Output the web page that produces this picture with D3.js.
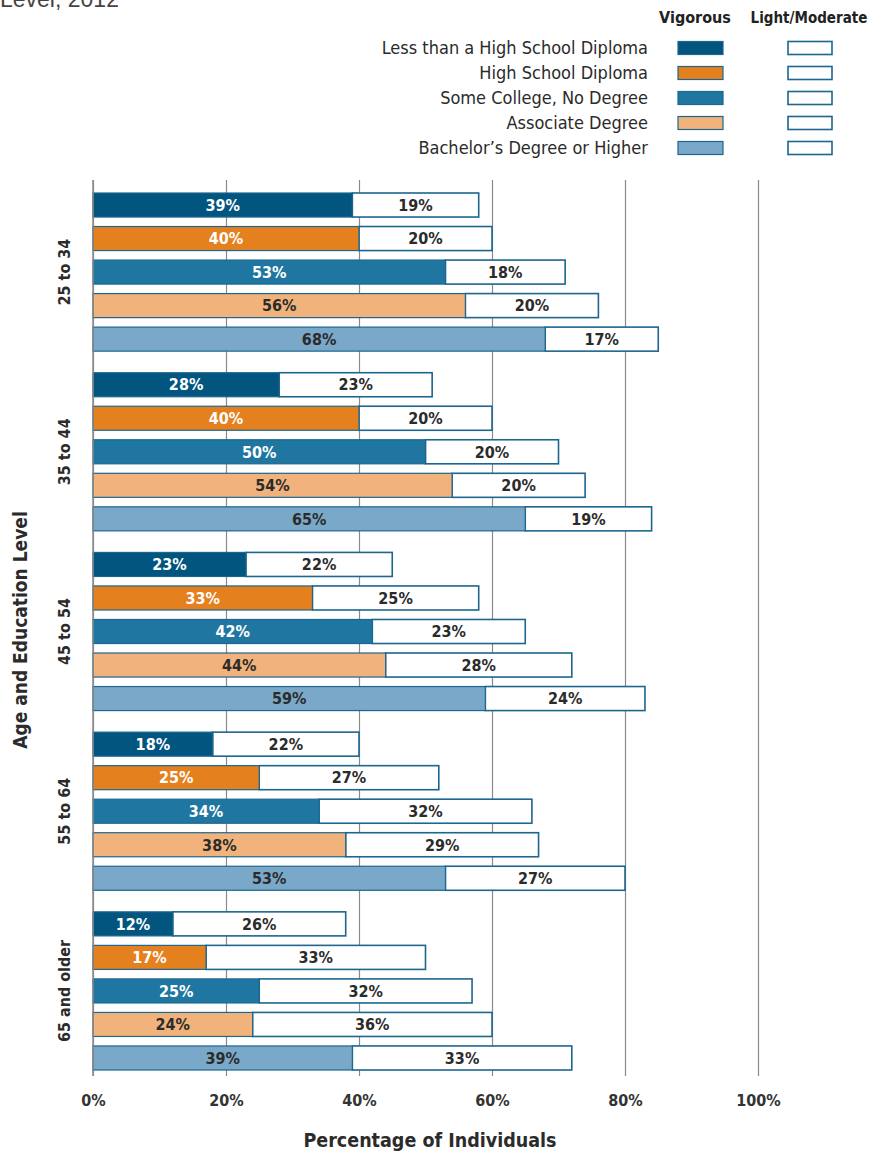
<!DOCTYPE html>
<html>
<head>
<meta charset="utf-8">
<script src="https://cdn.jsdelivr.net/npm/d3@7"></script>
<style>
html,body{margin:0;padding:0;background:#fff;}
svg{display:block;}
text{font-family:"Liberation Sans Narrow","DejaVu Sans Condensed","Arial Narrow",sans-serif;}
</style>
</head>
<body>
<svg id="chart" width="882" height="1153"></svg>
<script>
// ---- data ----
const ageGroups = ["25 to 34", "35 to 44", "45 to 54", "55 to 64", "65 and older"];
const educationLevels = ["Less than a High School Diploma", "High School Diploma", "Some College, No Degree", "Associate Degree", "Bachelor\u2019s Degree or Higher"];
// vigorous[age][education]
const vigorous = [
  [39, 40, 53, 56, 68],
  [28, 40, 50, 54, 65],
  [23, 33, 42, 44, 59],
  [18, 25, 34, 38, 53],
  [12, 17, 25, 24, 39]
];
const lightModerate = [
  [19, 20, 18, 20, 17],
  [23, 20, 20, 20, 19],
  [22, 25, 23, 28, 24],
  [22, 27, 32, 29, 27],
  [26, 33, 32, 36, 33]
];
const xTicks = [0, 20, 40, 60, 80, 100];
const colors = ["#02557f", "#e5801f", "#1f77a1", "#f1b37b", "#79a8c8"];
const labelColors = ["#fff", "#fff", "#fff", "#2b2b2b", "#2b2b2b"];
const strokeColor = "#1c6690";

const svg = d3.select("#chart");

// title fragment (cut off at top, as in the source)
svg.append("text").attr("x", 0).attr("y", 7).attr("font-size", 23)
  .attr("fill", "#444").style("font-family", "'Liberation Sans','DejaVu Sans',sans-serif")
  .text("Level, 2012");

const x = d3.scaleLinear().domain([0, 100]).range([93, 758]);
const yGroup = d3.scaleBand().domain(ageGroups).range([193, 1070]).paddingInner(0.12).paddingOuter(0);
const yBar = d3.scaleBand().domain(educationLevels).range([0, yGroup.bandwidth()]).paddingInner(0.283).paddingOuter(0);

// gridlines
const grid = svg.append("g").attr("transform", "translate(0,1076)")
  .call(d3.axisBottom(x).tickValues(xTicks).tickSize(-896).tickFormat(""));
grid.select(".domain").remove();
grid.selectAll("line").attr("stroke", "#8a8a8a").attr("stroke-width", 1.2);

// x tick labels
const xAx = svg.append("g").attr("transform", "translate(0,1092)")
  .call(d3.axisBottom(x).tickValues(xTicks).tickSize(0).tickFormat(d => d + "%"));
xAx.select(".domain").remove();
xAx.selectAll("text").attr("font-size", 16).attr("font-weight", "bold").attr("fill", "#333")
  .style("font-family", "'Liberation Sans Narrow','DejaVu Sans Condensed',sans-serif");

// bars
const rows = [];
ageGroups.forEach((g, gi) => {
  educationLevels.forEach((e, ei) => {
    rows.push({g, e, ei, v: vigorous[gi][ei], l: lightModerate[gi][ei]});
  });
});

const barG = svg.append("g");
const bh = yBar.bandwidth();
const rowY = d => yGroup(d.g) + yBar(d.e);

barG.selectAll("rect.light").data(rows).join("rect")
  .attr("class", "light")
  .attr("x", d => x(d.v)).attr("y", rowY)
  .attr("width", d => x(d.v + d.l) - x(d.v)).attr("height", bh)
  .attr("fill", "#fff").attr("stroke", strokeColor).attr("stroke-width", 1.6);

barG.selectAll("rect.vig").data(rows).join("rect")
  .attr("class", "vig")
  .attr("x", x(0)).attr("y", rowY)
  .attr("width", d => x(d.v) - x(0)).attr("height", bh)
  .attr("fill", d => colors[d.ei]).attr("stroke", strokeColor).attr("stroke-width", 1.2);

barG.selectAll("text.vl").data(rows).join("text")
  .attr("class", "vl")
  .attr("x", d => (x(0) + x(d.v)) / 2).attr("y", d => rowY(d) + bh / 2)
  .attr("dy", "0.36em").attr("text-anchor", "middle")
  .attr("font-size", 16).attr("font-weight", "bold")
  .attr("fill", d => labelColors[d.ei]).text(d => d.v + "%");

barG.selectAll("text.ll").data(rows).join("text")
  .attr("class", "ll")
  .attr("x", d => (x(d.v) + x(d.v + d.l)) / 2).attr("y", d => rowY(d) + bh / 2)
  .attr("dy", "0.36em").attr("text-anchor", "middle")
  .attr("font-size", 16).attr("font-weight", "bold")
  .attr("fill", "#2b2b2b").text(d => d.l + "%");

// y axis line
svg.append("line").attr("x1", x(0)).attr("x2", x(0)).attr("y1", 180).attr("y2", 1076)
  .attr("stroke", "#8a8a8a").attr("stroke-width", 1.5);

// group labels
svg.selectAll("text.grp").data(ageGroups).join("text")
  .attr("class", "grp")
  .attr("transform", d => `translate(64,${yGroup(d) + yGroup.bandwidth() / 2}) rotate(-90)`)
  .attr("text-anchor", "middle").attr("dy", "0.36em")
  .attr("font-size", 16).attr("font-weight", "bold").attr("fill", "#2b2b2b")
  .text(d => d);

// axis titles
svg.append("text").attr("transform", "translate(20,630) rotate(-90)")
  .attr("text-anchor", "middle").attr("dy", "0.36em")
  .attr("font-size", 19).attr("font-weight", "bold").attr("fill", "#2b2b2b")
  .text("Age and Education Level");
svg.append("text").attr("x", 430).attr("y", 1147)
  .attr("text-anchor", "middle")
  .attr("font-size", 19.5).attr("font-weight", "bold").attr("fill", "#2b2b2b")
  .text("Percentage of Individuals");

// legend
const leg = svg.append("g");
leg.append("text").attr("x", 695).attr("y", 23).attr("text-anchor", "middle")
  .attr("font-size", 16).attr("font-weight", "bold").attr("fill", "#222").text("Vigorous");
leg.append("text").attr("x", 809).attr("y", 23).attr("text-anchor", "middle")
  .attr("font-size", 15).attr("font-weight", "bold").attr("fill", "#222").text("Light/Moderate");
const legY = d3.scalePoint().domain(educationLevels).range([48, 148]);
leg.selectAll("text.ll").data(educationLevels).join("text")
  .attr("class", "ll")
  .attr("x", 648).attr("y", d => legY(d)).attr("dy", "0.36em").attr("text-anchor", "end")
  .attr("font-size", 18).attr("fill", "#2b2b2b").text(d => d);
leg.selectAll("rect.lv").data(educationLevels).join("rect")
  .attr("class", "lv")
  .attr("x", 678).attr("y", d => legY(d) - 6.5).attr("width", 45).attr("height", 13)
  .attr("fill", (d, i) => colors[i]).attr("stroke", strokeColor).attr("stroke-width", 1.2);
leg.selectAll("rect.lm").data(educationLevels).join("rect")
  .attr("class", "lm")
  .attr("x", 788).attr("y", d => legY(d) - 6.5).attr("width", 44).attr("height", 13)
  .attr("fill", "#fff").attr("stroke", strokeColor).attr("stroke-width", 1.6);
</script>
</body>
</html>
